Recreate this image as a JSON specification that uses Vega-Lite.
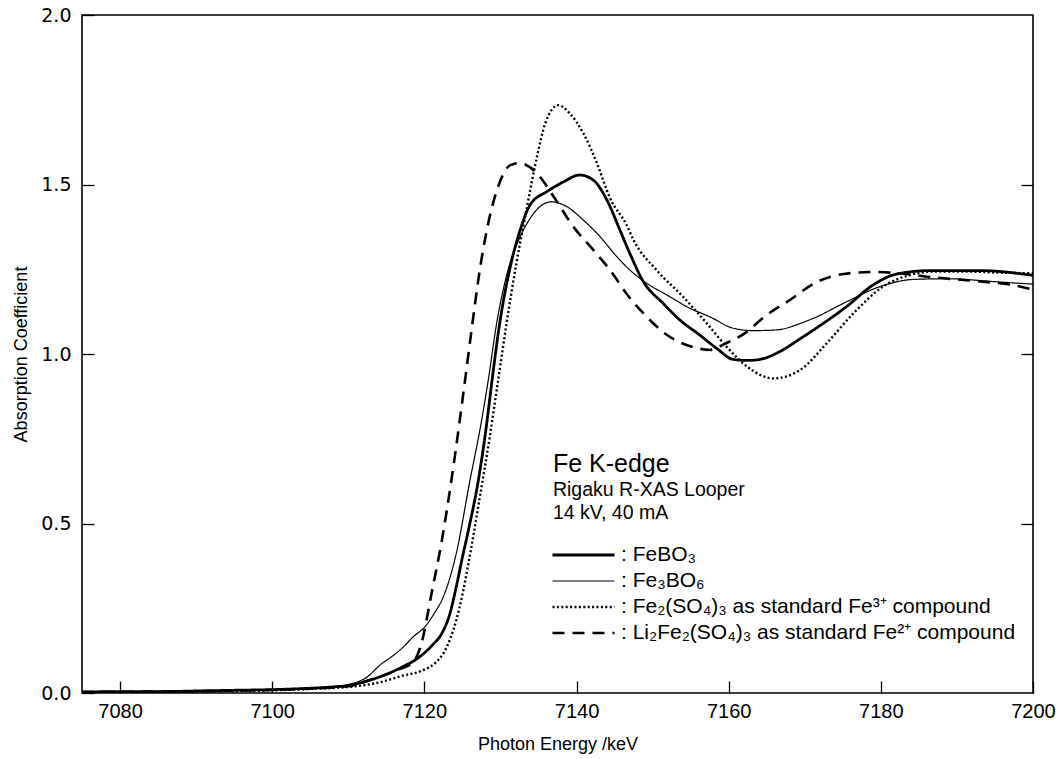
{
  "$schema": "https://vega.github.io/schema/vega-lite/v6.json",
  "width": 951,
  "height": 678,
  "autosize": {"type": "none"},
  "padding": {"left": 82, "top": 15, "right": 25, "bottom": 66},
  "background": "white",
  "config": {
    "view": {"stroke": "black", "strokeWidth": 1.6},
    "axis": {"grid": false, "domain": false, "tickColor": "black", "tickWidth": 1.3, "labelColor": "black", "titleColor": "black"}
  },
  "datasets": {
    "curves": [
      {"s": "FeBO₃", "x": 7075, "y": 0.003}, {"s": "FeBO₃", "x": 7080, "y": 0.004}, {"s": "FeBO₃", "x": 7085, "y": 0.004}, {"s": "FeBO₃", "x": 7090, "y": 0.006}, {"s": "FeBO₃", "x": 7095, "y": 0.008}, {"s": "FeBO₃", "x": 7100, "y": 0.010}, {"s": "FeBO₃", "x": 7105, "y": 0.014}, {"s": "FeBO₃", "x": 7108, "y": 0.018}, {"s": "FeBO₃", "x": 7110, "y": 0.022}, {"s": "FeBO₃", "x": 7112.4, "y": 0.035}, {"s": "FeBO₃", "x": 7115, "y": 0.055}, {"s": "FeBO₃", "x": 7117.2, "y": 0.078}, {"s": "FeBO₃", "x": 7119.4, "y": 0.107}, {"s": "FeBO₃", "x": 7121, "y": 0.14}, {"s": "FeBO₃", "x": 7122.3, "y": 0.176}, {"s": "FeBO₃", "x": 7123.3, "y": 0.23}, {"s": "FeBO₃", "x": 7124.2, "y": 0.314}, {"s": "FeBO₃", "x": 7125, "y": 0.40}, {"s": "FeBO₃", "x": 7125.8, "y": 0.481}, {"s": "FeBO₃", "x": 7127.1, "y": 0.628}, {"s": "FeBO₃", "x": 7128.2, "y": 0.796}, {"s": "FeBO₃", "x": 7128.9, "y": 0.923}, {"s": "FeBO₃", "x": 7129.9, "y": 1.09}, {"s": "FeBO₃", "x": 7131.3, "y": 1.258}, {"s": "FeBO₃", "x": 7132.6, "y": 1.366}, {"s": "FeBO₃", "x": 7133.9, "y": 1.44}, {"s": "FeBO₃", "x": 7136.1, "y": 1.479}, {"s": "FeBO₃", "x": 7138.3, "y": 1.508}, {"s": "FeBO₃", "x": 7140.4, "y": 1.528}, {"s": "FeBO₃", "x": 7142.2, "y": 1.513}, {"s": "FeBO₃", "x": 7144, "y": 1.454}, {"s": "FeBO₃", "x": 7145.7, "y": 1.366}, {"s": "FeBO₃", "x": 7147, "y": 1.297}, {"s": "FeBO₃", "x": 7148.8, "y": 1.213}, {"s": "FeBO₃", "x": 7151.4, "y": 1.149}, {"s": "FeBO₃", "x": 7153.6, "y": 1.100}, {"s": "FeBO₃", "x": 7156.2, "y": 1.056}, {"s": "FeBO₃", "x": 7158.4, "y": 1.017}, {"s": "FeBO₃", "x": 7160.6, "y": 0.984}, {"s": "FeBO₃", "x": 7162.5, "y": 0.981}, {"s": "FeBO₃", "x": 7164.1, "y": 0.984}, {"s": "FeBO₃", "x": 7166.7, "y": 1.007}, {"s": "FeBO₃", "x": 7169.4, "y": 1.045}, {"s": "FeBO₃", "x": 7171.1, "y": 1.07}, {"s": "FeBO₃", "x": 7175.5, "y": 1.14}, {"s": "FeBO₃", "x": 7179, "y": 1.204}, {"s": "FeBO₃", "x": 7182.1, "y": 1.236}, {"s": "FeBO₃", "x": 7186.5, "y": 1.246}, {"s": "FeBO₃", "x": 7193, "y": 1.246}, {"s": "FeBO₃", "x": 7200, "y": 1.232},
      {"s": "Fe₃BO₆", "x": 7075, "y": 0.003}, {"s": "Fe₃BO₆", "x": 7080, "y": 0.004}, {"s": "Fe₃BO₆", "x": 7090, "y": 0.006}, {"s": "Fe₃BO₆", "x": 7100, "y": 0.010}, {"s": "Fe₃BO₆", "x": 7105, "y": 0.014}, {"s": "Fe₃BO₆", "x": 7108, "y": 0.018}, {"s": "Fe₃BO₆", "x": 7110, "y": 0.025}, {"s": "Fe₃BO₆", "x": 7112.4, "y": 0.046}, {"s": "Fe₃BO₆", "x": 7114.2, "y": 0.083}, {"s": "Fe₃BO₆", "x": 7116, "y": 0.112}, {"s": "Fe₃BO₆", "x": 7117.2, "y": 0.135}, {"s": "Fe₃BO₆", "x": 7118.5, "y": 0.165}, {"s": "Fe₃BO₆", "x": 7120.1, "y": 0.196}, {"s": "Fe₃BO₆", "x": 7121.3, "y": 0.235}, {"s": "Fe₃BO₆", "x": 7122.5, "y": 0.284}, {"s": "Fe₃BO₆", "x": 7124.2, "y": 0.412}, {"s": "Fe₃BO₆", "x": 7126, "y": 0.628}, {"s": "Fe₃BO₆", "x": 7127.3, "y": 0.776}, {"s": "Fe₃BO₆", "x": 7128.4, "y": 0.923}, {"s": "Fe₃BO₆", "x": 7129.5, "y": 1.09}, {"s": "Fe₃BO₆", "x": 7131, "y": 1.248}, {"s": "Fe₃BO₆", "x": 7132.6, "y": 1.346}, {"s": "Fe₃BO₆", "x": 7133.9, "y": 1.40}, {"s": "Fe₃BO₆", "x": 7135.2, "y": 1.435}, {"s": "Fe₃BO₆", "x": 7136.7, "y": 1.449}, {"s": "Fe₃BO₆", "x": 7138.7, "y": 1.435}, {"s": "Fe₃BO₆", "x": 7140.9, "y": 1.395}, {"s": "Fe₃BO₆", "x": 7143.1, "y": 1.346}, {"s": "Fe₃BO₆", "x": 7145.3, "y": 1.287}, {"s": "Fe₃BO₆", "x": 7147, "y": 1.248}, {"s": "Fe₃BO₆", "x": 7149.2, "y": 1.209}, {"s": "Fe₃BO₆", "x": 7151.9, "y": 1.174}, {"s": "Fe₃BO₆", "x": 7154.9, "y": 1.135}, {"s": "Fe₃BO₆", "x": 7157.5, "y": 1.11}, {"s": "Fe₃BO₆", "x": 7160.6, "y": 1.076}, {"s": "Fe₃BO₆", "x": 7163.2, "y": 1.069}, {"s": "Fe₃BO₆", "x": 7166.3, "y": 1.071}, {"s": "Fe₃BO₆", "x": 7169.4, "y": 1.09}, {"s": "Fe₃BO₆", "x": 7171.1, "y": 1.105}, {"s": "Fe₃BO₆", "x": 7175.5, "y": 1.154}, {"s": "Fe₃BO₆", "x": 7179.9, "y": 1.199}, {"s": "Fe₃BO₆", "x": 7184.3, "y": 1.220}, {"s": "Fe₃BO₆", "x": 7188.7, "y": 1.222}, {"s": "Fe₃BO₆", "x": 7195.2, "y": 1.213}, {"s": "Fe₃BO₆", "x": 7200, "y": 1.206},
      {"s": "Fe₂(SO₄)₃ as standard Fe³⁺ compound", "x": 7075, "y": 0.002}, {"s": "Fe₂(SO₄)₃ as standard Fe³⁺ compound", "x": 7085, "y": 0.003}, {"s": "Fe₂(SO₄)₃ as standard Fe³⁺ compound", "x": 7095, "y": 0.006}, {"s": "Fe₂(SO₄)₃ as standard Fe³⁺ compound", "x": 7100, "y": 0.008}, {"s": "Fe₂(SO₄)₃ as standard Fe³⁺ compound", "x": 7105, "y": 0.012}, {"s": "Fe₂(SO₄)₃ as standard Fe³⁺ compound", "x": 7110, "y": 0.018}, {"s": "Fe₂(SO₄)₃ as standard Fe³⁺ compound", "x": 7112.4, "y": 0.024}, {"s": "Fe₂(SO₄)₃ as standard Fe³⁺ compound", "x": 7114.2, "y": 0.032}, {"s": "Fe₂(SO₄)₃ as standard Fe³⁺ compound", "x": 7117, "y": 0.05}, {"s": "Fe₂(SO₄)₃ as standard Fe³⁺ compound", "x": 7119.9, "y": 0.068}, {"s": "Fe₂(SO₄)₃ as standard Fe³⁺ compound", "x": 7121.5, "y": 0.09}, {"s": "Fe₂(SO₄)₃ as standard Fe³⁺ compound", "x": 7122.5, "y": 0.117}, {"s": "Fe₂(SO₄)₃ as standard Fe³⁺ compound", "x": 7123.4, "y": 0.16}, {"s": "Fe₂(SO₄)₃ as standard Fe³⁺ compound", "x": 7124.2, "y": 0.215}, {"s": "Fe₂(SO₄)₃ as standard Fe³⁺ compound", "x": 7125, "y": 0.29}, {"s": "Fe₂(SO₄)₃ as standard Fe³⁺ compound", "x": 7125.8, "y": 0.383}, {"s": "Fe₂(SO₄)₃ as standard Fe³⁺ compound", "x": 7127.3, "y": 0.579}, {"s": "Fe₂(SO₄)₃ as standard Fe³⁺ compound", "x": 7128.6, "y": 0.756}, {"s": "Fe₂(SO₄)₃ as standard Fe³⁺ compound", "x": 7129.7, "y": 0.923}, {"s": "Fe₂(SO₄)₃ as standard Fe³⁺ compound", "x": 7130.8, "y": 1.09}, {"s": "Fe₂(SO₄)₃ as standard Fe³⁺ compound", "x": 7132.1, "y": 1.268}, {"s": "Fe₂(SO₄)₃ as standard Fe³⁺ compound", "x": 7133.5, "y": 1.435}, {"s": "Fe₂(SO₄)₃ as standard Fe³⁺ compound", "x": 7134.8, "y": 1.582}, {"s": "Fe₂(SO₄)₃ as standard Fe³⁺ compound", "x": 7135.9, "y": 1.681}, {"s": "Fe₂(SO₄)₃ as standard Fe³⁺ compound", "x": 7137.6, "y": 1.734}, {"s": "Fe₂(SO₄)₃ as standard Fe³⁺ compound", "x": 7139.1, "y": 1.71}, {"s": "Fe₂(SO₄)₃ as standard Fe³⁺ compound", "x": 7140.9, "y": 1.651}, {"s": "Fe₂(SO₄)₃ as standard Fe³⁺ compound", "x": 7142.7, "y": 1.562}, {"s": "Fe₂(SO₄)₃ as standard Fe³⁺ compound", "x": 7144.4, "y": 1.46}, {"s": "Fe₂(SO₄)₃ as standard Fe³⁺ compound", "x": 7146.6, "y": 1.38}, {"s": "Fe₂(SO₄)₃ as standard Fe³⁺ compound", "x": 7147.5, "y": 1.336}, {"s": "Fe₂(SO₄)₃ as standard Fe³⁺ compound", "x": 7150.5, "y": 1.248}, {"s": "Fe₂(SO₄)₃ as standard Fe³⁺ compound", "x": 7154, "y": 1.169}, {"s": "Fe₂(SO₄)₃ as standard Fe³⁺ compound", "x": 7157.1, "y": 1.091}, {"s": "Fe₂(SO₄)₃ as standard Fe³⁺ compound", "x": 7159.7, "y": 1.022}, {"s": "Fe₂(SO₄)₃ as standard Fe³⁺ compound", "x": 7162.4, "y": 0.963}, {"s": "Fe₂(SO₄)₃ as standard Fe³⁺ compound", "x": 7165.9, "y": 0.928}, {"s": "Fe₂(SO₄)₃ as standard Fe³⁺ compound", "x": 7169.4, "y": 0.953}, {"s": "Fe₂(SO₄)₃ as standard Fe³⁺ compound", "x": 7172.9, "y": 1.032}, {"s": "Fe₂(SO₄)₃ as standard Fe³⁺ compound", "x": 7176.4, "y": 1.12}, {"s": "Fe₂(SO₄)₃ as standard Fe³⁺ compound", "x": 7180.3, "y": 1.199}, {"s": "Fe₂(SO₄)₃ as standard Fe³⁺ compound", "x": 7183.8, "y": 1.233}, {"s": "Fe₂(SO₄)₃ as standard Fe³⁺ compound", "x": 7186.9, "y": 1.243}, {"s": "Fe₂(SO₄)₃ as standard Fe³⁺ compound", "x": 7191.3, "y": 1.243}, {"s": "Fe₂(SO₄)₃ as standard Fe³⁺ compound", "x": 7195.7, "y": 1.240}, {"s": "Fe₂(SO₄)₃ as standard Fe³⁺ compound", "x": 7200, "y": 1.238},
      {"s": "Li₂Fe₂(SO₄)₃ as standard Fe²⁺ compound", "x": 7075, "y": 0.003}, {"s": "Li₂Fe₂(SO₄)₃ as standard Fe²⁺ compound", "x": 7085, "y": 0.004}, {"s": "Li₂Fe₂(SO₄)₃ as standard Fe²⁺ compound", "x": 7095, "y": 0.007}, {"s": "Li₂Fe₂(SO₄)₃ as standard Fe²⁺ compound", "x": 7100, "y": 0.009}, {"s": "Li₂Fe₂(SO₄)₃ as standard Fe²⁺ compound", "x": 7105, "y": 0.013}, {"s": "Li₂Fe₂(SO₄)₃ as standard Fe²⁺ compound", "x": 7110, "y": 0.02}, {"s": "Li₂Fe₂(SO₄)₃ as standard Fe²⁺ compound", "x": 7113, "y": 0.04}, {"s": "Li₂Fe₂(SO₄)₃ as standard Fe²⁺ compound", "x": 7115, "y": 0.055}, {"s": "Li₂Fe₂(SO₄)₃ as standard Fe²⁺ compound", "x": 7117, "y": 0.073}, {"s": "Li₂Fe₂(SO₄)₃ as standard Fe²⁺ compound", "x": 7118.5, "y": 0.09}, {"s": "Li₂Fe₂(SO₄)₃ as standard Fe²⁺ compound", "x": 7119.5, "y": 0.137}, {"s": "Li₂Fe₂(SO₄)₃ as standard Fe²⁺ compound", "x": 7121, "y": 0.30}, {"s": "Li₂Fe₂(SO₄)₃ as standard Fe²⁺ compound", "x": 7122.3, "y": 0.45}, {"s": "Li₂Fe₂(SO₄)₃ as standard Fe²⁺ compound", "x": 7123.7, "y": 0.65}, {"s": "Li₂Fe₂(SO₄)₃ as standard Fe²⁺ compound", "x": 7125.1, "y": 0.88}, {"s": "Li₂Fe₂(SO₄)₃ as standard Fe²⁺ compound", "x": 7126.2, "y": 1.07}, {"s": "Li₂Fe₂(SO₄)₃ as standard Fe²⁺ compound", "x": 7127.3, "y": 1.25}, {"s": "Li₂Fe₂(SO₄)₃ as standard Fe²⁺ compound", "x": 7128.4, "y": 1.386}, {"s": "Li₂Fe₂(SO₄)₃ as standard Fe²⁺ compound", "x": 7129.7, "y": 1.494}, {"s": "Li₂Fe₂(SO₄)₃ as standard Fe²⁺ compound", "x": 7131.3, "y": 1.557}, {"s": "Li₂Fe₂(SO₄)₃ as standard Fe²⁺ compound", "x": 7132.5, "y": 1.563}, {"s": "Li₂Fe₂(SO₄)₃ as standard Fe²⁺ compound", "x": 7134.8, "y": 1.533}, {"s": "Li₂Fe₂(SO₄)₃ as standard Fe²⁺ compound", "x": 7137, "y": 1.464}, {"s": "Li₂Fe₂(SO₄)₃ as standard Fe²⁺ compound", "x": 7139.6, "y": 1.375}, {"s": "Li₂Fe₂(SO₄)₃ as standard Fe²⁺ compound", "x": 7142.2, "y": 1.307}, {"s": "Li₂Fe₂(SO₄)₃ as standard Fe²⁺ compound", "x": 7144.4, "y": 1.248}, {"s": "Li₂Fe₂(SO₄)₃ as standard Fe²⁺ compound", "x": 7146.6, "y": 1.177}, {"s": "Li₂Fe₂(SO₄)₃ as standard Fe²⁺ compound", "x": 7149, "y": 1.115}, {"s": "Li₂Fe₂(SO₄)₃ as standard Fe²⁺ compound", "x": 7151.9, "y": 1.056}, {"s": "Li₂Fe₂(SO₄)₃ as standard Fe²⁺ compound", "x": 7155.4, "y": 1.02}, {"s": "Li₂Fe₂(SO₄)₃ as standard Fe²⁺ compound", "x": 7157.5, "y": 1.012}, {"s": "Li₂Fe₂(SO₄)₃ as standard Fe²⁺ compound", "x": 7159.5, "y": 1.03}, {"s": "Li₂Fe₂(SO₄)₃ as standard Fe²⁺ compound", "x": 7161.9, "y": 1.058}, {"s": "Li₂Fe₂(SO₄)₃ as standard Fe²⁺ compound", "x": 7165, "y": 1.115}, {"s": "Li₂Fe₂(SO₄)₃ as standard Fe²⁺ compound", "x": 7168.1, "y": 1.16}, {"s": "Li₂Fe₂(SO₄)₃ as standard Fe²⁺ compound", "x": 7171.3, "y": 1.209}, {"s": "Li₂Fe₂(SO₄)₃ as standard Fe²⁺ compound", "x": 7175.1, "y": 1.236}, {"s": "Li₂Fe₂(SO₄)₃ as standard Fe²⁺ compound", "x": 7179, "y": 1.242}, {"s": "Li₂Fe₂(SO₄)₃ as standard Fe²⁺ compound", "x": 7182.5, "y": 1.238}, {"s": "Li₂Fe₂(SO₄)₃ as standard Fe²⁺ compound", "x": 7186.5, "y": 1.227}, {"s": "Li₂Fe₂(SO₄)₃ as standard Fe²⁺ compound", "x": 7190.5, "y": 1.219}, {"s": "Li₂Fe₂(SO₄)₃ as standard Fe²⁺ compound", "x": 7194, "y": 1.212}, {"s": "Li₂Fe₂(SO₄)₃ as standard Fe²⁺ compound", "x": 7197, "y": 1.205}, {"s": "Li₂Fe₂(SO₄)₃ as standard Fe²⁺ compound", "x": 7200, "y": 1.19}
    ]
  },
  "resolve": {"axis": {"y": "independent"}},
  "layer": [
    {
      "data": {"name": "curves"},
      "mark": {"type": "line", "color": "black", "interpolate": "monotone", "strokeCap": "butt", "clip": true},
      "encoding": {
        "x": {"field": "x", "type": "quantitative", "scale": {"domain": [7075, 7200], "nice": false, "zero": false},
          "axis": {"values": [7080, 7100, 7120, 7140, 7160, 7180, 7200], "format": "d", "offset": -12, "tickSize": 12, "labelPadding": 8, "labelFont": "Liberation Sans", "labelFontSize": 20, "labelFlush": false, "title": "Photon Energy /keV", "titleFont": "Liberation Sans", "titleFontSize": 18, "titleFontWeight": "normal", "titlePadding": 14}},
        "y": {"field": "y", "type": "quantitative", "scale": {"domain": [0, 2], "nice": false, "zero": false},
          "axis": {"orient": "left", "values": [0, 0.5, 1, 1.5, 2], "format": ".1f", "offset": -12, "tickSize": 12, "labelPadding": 11, "labelFont": "DejaVu Sans", "labelFontSize": 19, "labelFlush": false, "title": "Absorption Coefficient", "titleFont": "Liberation Sans", "titleFontSize": 18, "titleFontWeight": "normal", "titlePadding": 10}},
        "strokeDash": {"field": "s", "type": "nominal",
          "scale": {"domain": ["FeBO₃", "Fe₃BO₆", "Fe₂(SO₄)₃ as standard Fe³⁺ compound", "Li₂Fe₂(SO₄)₃ as standard Fe²⁺ compound"], "range": [[1, 0], [1, 0], [2, 2.4], [12, 8]]},
          "legend": {"orient": "none", "legendX": 469, "legendY": 528, "title": null, "padding": 0, "symbolType": "stroke", "symbolSize": 3844, "clipHeight": 24, "rowPadding": 2, "symbolStrokeColor": "black", "labelFont": "Liberation Sans", "labelFontSize": 21, "labelColor": "black", "labelOffset": 5, "labelLimit": 600, "labelExpr": "': ' + datum.label"}},
        "strokeWidth": {"field": "s", "type": "nominal",
          "scale": {"type": "ordinal", "domain": ["FeBO₃", "Fe₃BO₆", "Fe₂(SO₄)₃ as standard Fe³⁺ compound", "Li₂Fe₂(SO₄)₃ as standard Fe²⁺ compound"], "range": [2.8, 1.2, 2.4, 2.6]}}
      }
    },
    {
      "data": {"name": "curves"},
      "mark": {"type": "point", "opacity": 0},
      "encoding": {
        "x": {"field": "x", "type": "quantitative", "scale": {"domain": [7075, 7200], "nice": false, "zero": false}},
        "y": {"field": "y", "type": "quantitative", "scale": {"domain": [0, 2], "nice": false, "zero": false},
          "axis": {"orient": "right", "values": [0.5, 1, 1.5], "offset": -12, "tickSize": 12, "labels": false, "title": null}}
      }
    },
    {
      "data": {"values": [{"t": "Fe K-edge"}]},
      "mark": {"type": "text", "align": "left", "baseline": "alphabetic", "font": "Liberation Sans", "fontSize": 25, "color": "black"},
      "encoding": {"text": {"field": "t"}, "x": {"datum": 7136.9, "type": "quantitative"}, "y": {"datum": 0.652, "type": "quantitative", "axis": null}}
    },
    {
      "data": {"values": [{"t": "Rigaku R-XAS Looper"}]},
      "mark": {"type": "text", "align": "left", "baseline": "alphabetic", "font": "Liberation Sans", "fontSize": 19.5, "color": "black"},
      "encoding": {"text": {"field": "t"}, "x": {"datum": 7136.9, "type": "quantitative"}, "y": {"datum": 0.581, "type": "quantitative", "axis": null}}
    },
    {
      "data": {"values": [{"t": "14 kV, 40 mA"}]},
      "mark": {"type": "text", "align": "left", "baseline": "alphabetic", "font": "Liberation Sans", "fontSize": 19.5, "color": "black"},
      "encoding": {"text": {"field": "t"}, "x": {"datum": 7136.9, "type": "quantitative"}, "y": {"datum": 0.514, "type": "quantitative", "axis": null}}
    }
  ]
}
